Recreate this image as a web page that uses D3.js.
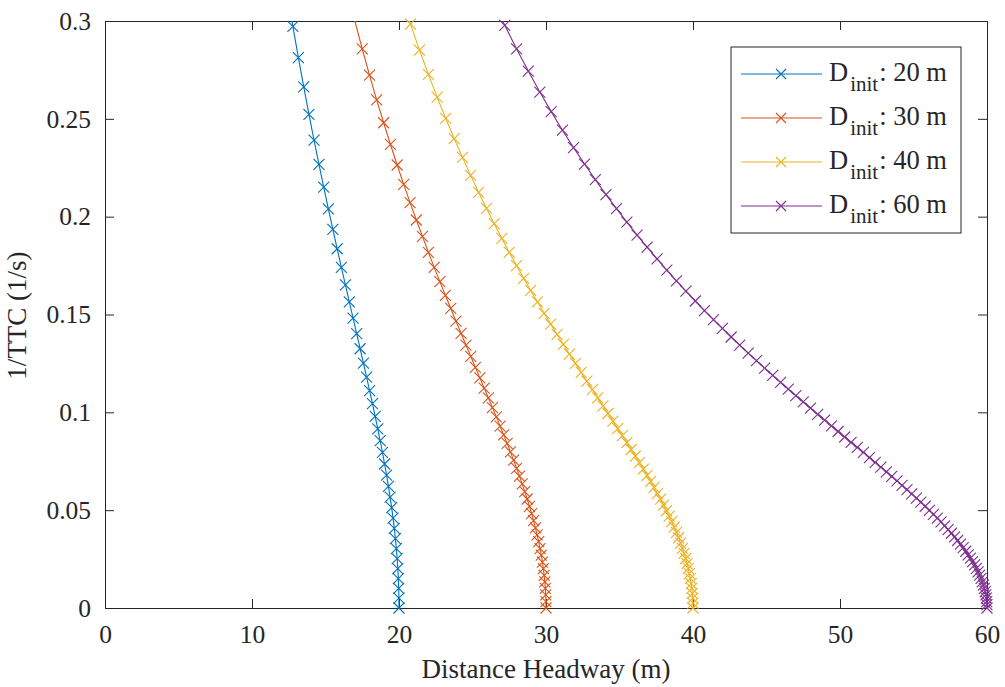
<!DOCTYPE html>
<html>
<head>
<meta charset="utf-8">
<script src="https://cdn.jsdelivr.net/npm/d3@7"></script>
<style>
  body { margin: 0; background: #fff; }
  svg text { font-family: "Liberation Serif", "Times New Roman", serif; fill: #262626; }
</style>
</head>
<body>
<div id="chart"></div>
<script>
// Distance headway (m) and 1/TTC (1/s), one pair of arrays per curve
var dist20 = [20, 19.995, 19.98, 19.955, 19.92, 19.875, 19.82, 19.755, 19.68, 19.595,
  19.5, 19.395, 19.28, 19.155, 19.02, 18.875, 18.72, 18.555, 18.38, 18.195,
  18, 17.795, 17.58, 17.355, 17.12, 16.875, 16.62, 16.355, 16.08, 15.795,
  15.5, 15.195, 14.88, 14.555, 14.22, 13.875, 13.52, 13.155, 12.78, 12.395];
var ttc20 = [0, .0050, .0100, .0150, .0201, .0252, .0303, .0354, .0407, .0459,
  .0513, .0567, .0622, .0679, .0736, .0795, .0855, .0916, .0979, .1044,
  .1111, .1180, .1251, .1325, .1402, .1481, .1564, .1651, .1741, .1836,
  .1935, .2040, .2151, .2267, .2391, .2523, .2663, .2813, .2973, .3146];

var dist30 = [30, 29.995, 29.98, 29.955, 29.92, 29.875, 29.82, 29.755, 29.68, 29.595,
  29.5, 29.395, 29.28, 29.155, 29.02, 28.875, 28.72, 28.555, 28.38, 28.195,
  28, 27.795, 27.58, 27.355, 27.12, 26.875, 26.62, 26.355, 26.08, 25.795,
  25.5, 25.195, 24.88, 24.555, 24.22, 23.875, 23.52, 23.155, 22.78, 22.395,
  22, 21.595, 21.18, 20.755, 20.32, 19.875, 19.42, 18.955, 18.48, 17.995,
  17.5, 16.995];
var ttc30 = [0, .0033, .0067, .0100, .0134, .0167, .0201, .0235, .0270, .0304,
  .0339, .0374, .0410, .0446, .0482, .0519, .0557, .0595, .0634, .0674,
  .0714, .0756, .0798, .0841, .0885, .0930, .0977, .1024, .1074, .1124,
  .1176, .1230, .1286, .1344, .1404, .1466, .1531, .1598, .1668, .1741,
  .1818, .1899, .1983, .2072, .2165, .2264, .2369, .2480, .2597, .2723,
  .2857, .3001];

var dist40 = [40, 39.995, 39.98, 39.955, 39.92, 39.875, 39.82, 39.755, 39.68, 39.595,
  39.5, 39.395, 39.28, 39.155, 39.02, 38.875, 38.72, 38.555, 38.38, 38.195,
  38, 37.795, 37.58, 37.355, 37.12, 36.875, 36.62, 36.355, 36.08, 35.795,
  35.5, 35.195, 34.88, 34.555, 34.22, 33.875, 33.52, 33.155, 32.78, 32.395,
  32, 31.595, 31.18, 30.755, 30.32, 29.875, 29.42, 28.955, 28.48, 27.995,
  27.5, 26.995, 26.48, 25.955, 25.42, 24.875, 24.32, 23.755, 23.18, 22.595,
  22, 21.395, 20.78, 20.155];
var ttc40 = [0, .0025, .0050, .0075, .0100, .0125, .0151, .0176, .0202, .0227,
  .0253, .0279, .0305, .0332, .0359, .0386, .0413, .0441, .0469, .0497,
  .0526, .0556, .0585, .0616, .0647, .0678, .0710, .0743, .0776, .0810,
  .0845, .0881, .0917, .0955, .0994, .1033, .1074, .1116, .1159, .1204,
  .1250, .1298, .1347, .1398, .1451, .1506, .1564, .1623, .1685, .1750,
  .1818, .1889, .1964, .2042, .2124, .2211, .2303, .2399, .2502, .2611,
  .2727, .2851, .2984, .3126];

var dist60 = [60, 59.995, 59.98, 59.955, 59.92, 59.875, 59.82, 59.755, 59.68, 59.595,
  59.5, 59.395, 59.28, 59.155, 59.02, 58.875, 58.72, 58.555, 58.38, 58.195,
  58, 57.795, 57.58, 57.355, 57.12, 56.875, 56.62, 56.355, 56.08, 55.795,
  55.5, 55.195, 54.88, 54.555, 54.22, 53.875, 53.52, 53.155, 52.78, 52.395,
  52, 51.595, 51.18, 50.755, 50.32, 49.875, 49.42, 48.955, 48.48, 47.995,
  47.5, 46.995, 46.48, 45.955, 45.42, 44.875, 44.32, 43.755, 43.18, 42.595,
  42, 41.395, 40.78, 40.155, 39.52, 38.875, 38.22, 37.555, 36.88, 36.195,
  35.5, 34.795, 34.08, 33.355, 32.62, 31.875, 31.12, 30.355, 29.58, 28.795,
  28, 27.195, 26.38];
var ttc60 = [0, .0017, .0033, .0050, .0067, .0084, .0100, .0117, .0134, .0151,
  .0168, .0185, .0202, .0220, .0237, .0255, .0272, .0290, .0308, .0326,
  .0345, .0363, .0382, .0401, .0420, .0440, .0459, .0479, .0499, .0520,
  .0541, .0562, .0583, .0605, .0627, .0650, .0673, .0696, .0720, .0744,
  .0769, .0795, .0821, .0847, .0874, .0902, .0931, .0960, .0990, .1021,
  .1053, .1085, .1119, .1153, .1189, .1226, .1264, .1303, .1343, .1385,
  .1429, .1474, .1520, .1569, .1619, .1672, .1727, .1784, .1844, .1906,
  .1972, .2041, .2113, .2189, .2269, .2353, .2442, .2537, .2637, .2744,
  .2857, .2978, .3108];

var seriesNames = ["20 m", "30 m", "40 m", "60 m"];
var seriesColors = ["#0072BD", "#D95319", "#EDB120", "#7E2F8E"];
var xTicks = [0, 10, 20, 30, 40, 50, 60];
var yTicks = [0, 0.05, 0.1, 0.15, 0.2, 0.25, 0.3];

var allSeries = [
  { name: seriesNames[0], color: seriesColors[0], pts: d3.zip(dist20, ttc20) },
  { name: seriesNames[1], color: seriesColors[1], pts: d3.zip(dist30, ttc30) },
  { name: seriesNames[2], color: seriesColors[2], pts: d3.zip(dist40, ttc40) },
  { name: seriesNames[3], color: seriesColors[3], pts: d3.zip(dist60, ttc60) }
];

// Chart size and plot box
const width = 1005;
const height = 687;
const plotLeft = 105, plotRight = 987, plotTop = 21, plotBottom = 608;
const tickLen = 9;
const axisColor = "#262626";

const svg = d3.select("#chart")
  .append("svg")
  .attr("width", width)
  .attr("height", height);

const x = d3.scaleLinear().domain([0, 60]).range([plotLeft, plotRight]);
const y = d3.scaleLinear().domain([0, 0.3]).range([plotBottom, plotTop]);

// Axes (ticks point inward, mirrored on top/right like a boxed plot)
function styleAxis(g) {
  g.selectAll("path.domain").attr("stroke", axisColor).attr("stroke-width", 1);
  g.selectAll(".tick line").attr("stroke", axisColor).attr("stroke-width", 1);
  g.selectAll(".tick text").style("font-size", "25.5px").attr("fill", axisColor);
}

svg.append("g")
  .attr("transform", `translate(0,${plotBottom})`)
  .call(d3.axisBottom(x).tickValues(xTicks).tickSizeInner(-tickLen).tickSizeOuter(0).tickPadding(17))
  .call(styleAxis);

svg.append("g")
  .attr("transform", `translate(0,${plotTop})`)
  .call(d3.axisTop(x).tickValues(xTicks).tickSizeInner(-tickLen).tickSizeOuter(0).tickFormat(""))
  .call(styleAxis);

svg.append("g")
  .attr("transform", `translate(${plotLeft},0)`)
  .call(d3.axisLeft(y).tickValues(yTicks).tickSizeInner(-tickLen).tickSizeOuter(0).tickPadding(14).tickFormat(d3.format("~g")))
  .call(styleAxis);

svg.append("g")
  .attr("transform", `translate(${plotRight},0)`)
  .call(d3.axisRight(y).tickValues(yTicks).tickSizeInner(-tickLen).tickSizeOuter(0).tickFormat(""))
  .call(styleAxis);

// Axis titles
svg.append("text")
  .attr("x", (plotLeft + plotRight) / 2)
  .attr("y", 677.5)
  .attr("text-anchor", "middle")
  .style("font-size", "27px")
  .text("Distance Headway (m)");

svg.append("text")
  .attr("transform", `translate(26,${(plotTop + plotBottom) / 2 + 1}) rotate(-90)`)
  .attr("text-anchor", "middle")
  .style("font-size", "27px")
  .text("1/TTC (1/s)");

// Clip for the curves
svg.append("clipPath")
  .attr("id", "plotClip")
  .append("rect")
  .attr("x", plotLeft)
  .attr("y", plotTop)
  .attr("width", plotRight - plotLeft)
  .attr("height", plotBottom - plotTop);

const line = d3.line()
  .x(d => x(d[0]))
  .y(d => y(d[1]));

const ms = 5.5; // half size of the x markers
const crossPath = s => `M${-s},${-s}L${s},${s}M${-s},${s}L${s},${-s}`;

allSeries.forEach(s => {
  svg.append("path")
    .datum(s.pts)
    .attr("clip-path", "url(#plotClip)")
    .attr("fill", "none")
    .attr("stroke", s.color)
    .attr("stroke-width", 1.1)
    .attr("d", line);

  svg.selectAll(null)
    .data(s.pts.filter(d => d[1] <= 0.3))
    .enter()
    .append("path")
    .attr("transform", d => `translate(${x(d[0])},${y(d[1])})`)
    .attr("d", crossPath(ms))
    .attr("fill", "none")
    .attr("stroke", s.color)
    .attr("stroke-width", 1.1);
});

// Legend
const legend = svg.append("g");
legend.append("rect")
  .attr("x", 731)
  .attr("y", 47)
  .attr("width", 230)
  .attr("height", 186)
  .attr("fill", "#fff")
  .attr("stroke", axisColor)
  .attr("stroke-width", 1);

allSeries.forEach((s, i) => {
  const ry = 74 + i * 44;
  legend.append("line")
    .attr("x1", 741).attr("x2", 822)
    .attr("y1", ry).attr("y2", ry)
    .attr("stroke", s.color)
    .attr("stroke-width", 1.1);
  legend.append("path")
    .attr("transform", `translate(781,${ry})`)
    .attr("d", crossPath(5))
    .attr("fill", "none")
    .attr("stroke", s.color)
    .attr("stroke-width", 1.1);
  const t = legend.append("text")
    .attr("x", 829)
    .attr("y", ry + 6.5)
    .style("font-size", "26.5px");
  t.append("tspan").text("D");
  t.append("tspan").attr("dx", 2).attr("dy", 10.5).style("font-size", "21px").text("init");
  t.append("tspan").attr("dx", 1).attr("dy", -10.5).text(": " + s.name);
});
</script>
</body>
</html>
